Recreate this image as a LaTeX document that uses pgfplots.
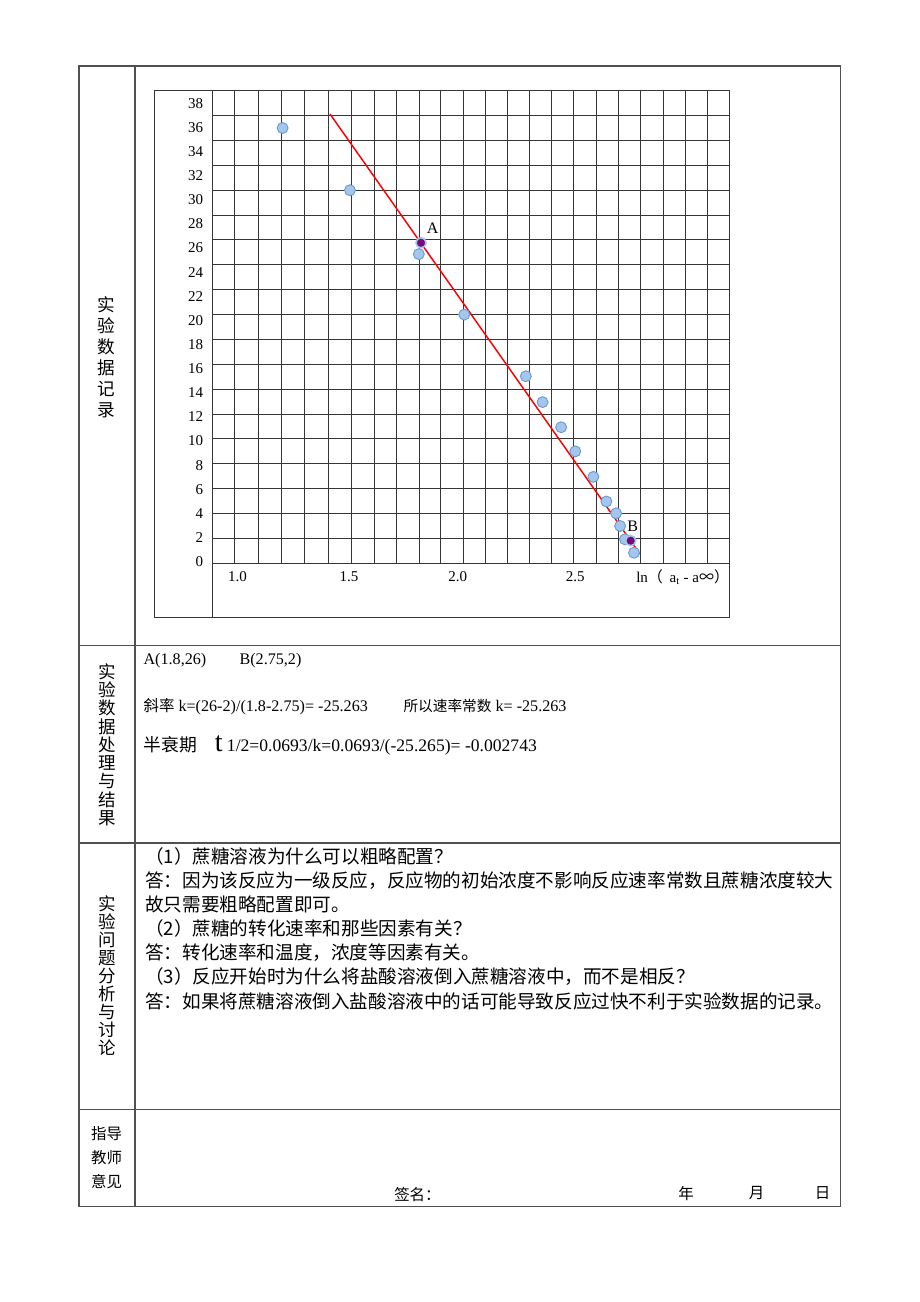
\documentclass[border=0pt]{standalone}
\usepackage{fontspec}
\setmainfont{Liberation Serif}
\newfontfamily\cjk{Noto Sans CJK SC}
\usepackage{pgfplots}
\pgfplotsset{compat=1.18}
\definecolor{ptfill}{HTML}{A4C6EA}
\definecolor{ptdraw}{HTML}{6C9BD6}
\definecolor{ptpurple}{HTML}{7A0A7A}
\definecolor{gridc}{HTML}{363636}
\definecolor{tablec}{HTML}{505050}
\begin{document}
\begin{tikzpicture}
\begin{scope}[x=0.75pt,y=-0.75pt]
\fill[white] (0,0) rectangle (920,1302);
% table
\draw[tablec, line width=0.9pt] (79,66) rectangle (840.7,1206.3);
\draw[tablec, line width=0.9pt] (135,66) -- (135,1206.3);
\draw[tablec, line width=0.9pt] (79,645.5) -- (840.7,645.5);
\draw[tablec, line width=0.9pt] (79,843) -- (840.7,843);
\draw[tablec, line width=0.9pt] (79,1109.5) -- (840.7,1109.5);
% chart frame
\draw[gridc, line width=0.8pt] (154.3,90.7) rectangle (729.3,617.3);
\draw[gridc, line width=0.8pt] (212.3,90.7) -- (212.3,617.3);
% left column labels
\node[inner sep=0, align=center, font=\cjk\fontsize{13.2pt}{15.75pt}\selectfont] at (106,356.8) {实\\验\\数\\据\\记\\录};
\node[inner sep=0, align=center, font=\cjk\fontsize{13.1pt}{13.72pt}\selectfont] at (107,744.6) {实\\验\\数\\据\\处\\理\\与\\结\\果};
\node[inner sep=0, align=center, font=\cjk\fontsize{13.1pt}{13.47pt}\selectfont] at (107,975.5) {实\\验\\问\\题\\分\\析\\与\\讨\\论};
\node[inner sep=0, align=center, font=\cjk\fontsize{11.6pt}{18pt}\selectfont] at (106.7,1157.5) {指导\\教师\\意见};
% results
\node[inner sep=0, anchor=base west, font=\fontsize{12.1pt}{14pt}\selectfont] at (143.3,664) {A(1.8,26)};
\node[inner sep=0, anchor=base west, font=\fontsize{12.1pt}{14pt}\selectfont] at (239.3,664) {B(2.75,2)};
\node[inner sep=0, anchor=base west, font=\fontsize{12.1pt}{14pt}\selectfont] at (143.3,711.7) {{\cjk\fontsize{11.6pt}{14pt}\selectfont 斜率} k=(26-2)/(1.8-2.75)= -25.263};
\node[inner sep=0, anchor=base west, font=\fontsize{12.1pt}{14pt}\selectfont] at (403.3,711.7) {{\cjk\fontsize{11pt}{14pt}\selectfont 所以速率常数} k= -25.263};
\node[inner sep=0, anchor=base west, font=\cjk\fontsize{13.35pt}{15pt}\selectfont] at (143.3,751.5) {半衰期};
\node[inner sep=0, anchor=base west, font=\fontsize{21pt}{24pt}\selectfont] at (214.5,751.5) {t};
\node[inner sep=0, anchor=base west, font=\fontsize{13.2pt}{15pt}\selectfont] at (226.7,751.5) {1/2=0.0693/k=0.0693/(-25.265)= -0.002743};
% questions
\begin{scope}[every node/.style={inner sep=0, anchor=west, font=\cjk\fontsize{13.95pt}{16pt}\selectfont}]
\node at (145,856.7) {（1）蔗糖溶液为什么可以粗略配置？};
\node at (145,880.7) {答：因为该反应为一级反应，反应物的初始浓度不影响反应速率常数且蔗糖浓度较大};
\node at (145,904.8) {故只需要粗略配置即可。};
\node at (145,928.9) {（2）蔗糖的转化速率和那些因素有关？};
\node at (145,953) {答：转化速率和温度，浓度等因素有关。};
\node at (145,977) {（3）反应开始时为什么将盐酸溶液倒入蔗糖溶液中，而不是相反？};
\node at (145,1001) {答：如果将蔗糖溶液倒入盐酸溶液中的话可能导致反应过快不利于实验数据的记录。};
\end{scope}
% signature
\begin{scope}[every node/.style={inner sep=0, font=\cjk\fontsize{11.6pt}{14pt}\selectfont}]
\node[anchor=west] at (394,1195) {签名：};
\node at (686,1193.3) {年};
\node at (756.7,1193.3) {月};
\node at (822.7,1193.3) {日};
\end{scope}
% x-axis name
\node[inner sep=0, anchor=west, font=\fontsize{11.25pt}{13pt}\selectfont] at (636,577.3) {ln{\cjk （}\hspace{5pt}a\textsubscript{t} - a{\cjk ∞}{\cjk ）}};
\end{scope}
\begin{axis}[
  at={(159.225pt,-422.475pt)}, anchor=south west,
  scale only axis, width=387.75pt, height=354.45pt,
  xmin=0.8544, xmax=3.1969, ymin=0, ymax=38,
  axis line style={gridc, line width=0.8pt},
  major tick length=0pt, minor tick length=0pt,
  xtick={0.968,1.474,1.967,2.499},
  xticklabels={1.0,1.5,2.0,2.5},
  ytick={0.14,2.079,4.018,5.957,7.896,9.835,11.774,13.713,15.652,17.591,19.53,21.469,23.408,25.347,27.286,29.225,31.164,33.103,35.042,36.981},
  yticklabels={0,2,4,6,8,10,12,14,16,18,20,22,24,26,28,30,32,34,36,38},
  minor xtick={0.9568,1.0642,1.1697,1.2735,1.3795,1.4833,1.5875,1.6894,1.7937,1.8888,1.9926,2.0913,2.1919,2.2925,2.3913,2.4919,2.5938,2.6944,2.7964,2.8970,2.9976,3.0981},
  minor ytick={2,4,6,8,10,12,14,16,18,20,22,24,26,28,30,32,34,36},
  xminorgrids=true, yminorgrids=true,
  minor grid style={gridc, line width=0.75pt},
  ticklabel style={font=\fontsize{11.25pt}{13pt}\selectfont},
  xticklabel style={yshift=-2.5pt},
  yticklabel style={anchor=east, xshift=-3.4pt},
  /pgf/number format/assume math mode=true,
]
\addplot[only marks, mark=*, mark size=4.1pt, mark options={fill=ptfill, draw=ptdraw, line width=0.7pt}] coordinates {
(1.173,35) (1.478,30) (1.790,24.86) (1.996,20) (2.275,15.04) (2.351,12.96) (2.435,10.94) (2.499,9.0) (2.581,6.95) (2.640,4.97) (2.684,4.02) (2.702,3.0) (2.724,1.93) (2.765,0.85)
};
\addplot[red, line width=1.1pt] coordinates {(1.388,36.12) (2.792,0.75)};
\addplot[only marks, mark=*, mark size=3.8pt, mark options={fill=ptpurple, draw=ptfill, line width=1.2pt}] coordinates {(1.8,25.77) (2.75,1.82)};
\node[font=\fontsize{12pt}{14pt}\selectfont, inner sep=0] at (axis cs:1.853,26.93) {A};
\node[font=\fontsize{12pt}{14pt}\selectfont, inner sep=0] at (axis cs:2.759,2.94) {B};
\end{axis}
\end{tikzpicture}
\end{document}
